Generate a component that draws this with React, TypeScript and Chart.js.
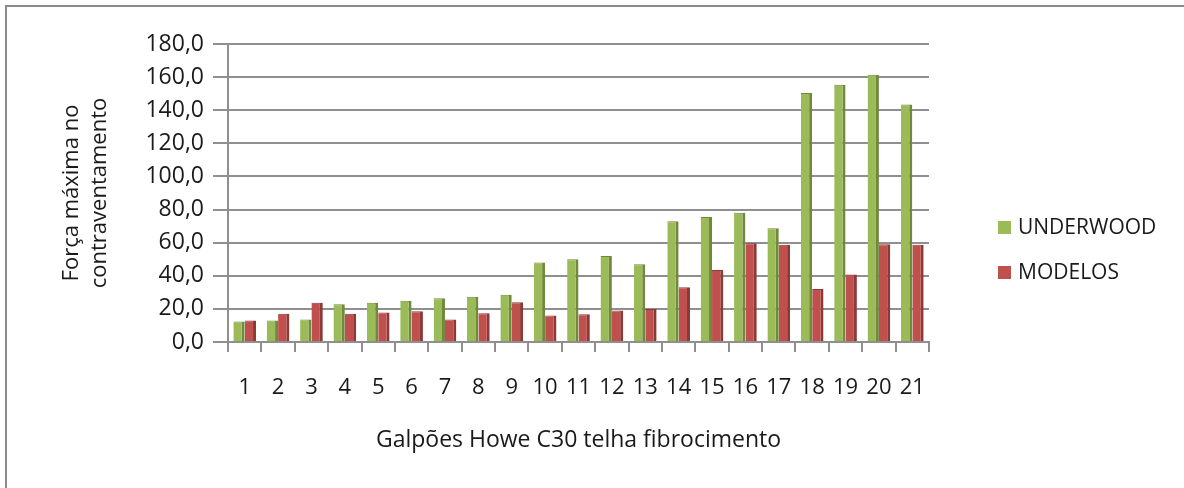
import React, { useEffect, useRef } from "react";
import { Chart, registerables } from "chart.js";

Chart.register(...registerables);

const categories = ["1","2","3","4","5","6","7","8","9","10","11","12","13","14","15","16","17","18","19","20","21"];
const underwood = [12.4, 13, 13.6, 22.8, 23.7, 24.9, 26.4, 27.4, 28.6, 48, 50, 52, 47, 73, 75.5, 78, 68.7, 150.4, 155.4, 161.4, 143.5];
const modelos = [13, 17, 23.7, 17, 17.8, 18.6, 13.6, 17.4, 24, 16, 16.8, 19, 20, 33, 43.5, 59.7, 58.7, 32, 40.7, 59, 58.7];
const seriesNames = ["UNDERWOOD", "MODELOS"];
const yTitle = ["Força máxima no", "contraventamento"];
const xTitle = "Galpões Howe C30 telha fibrocimento";

const FONT = '"Open Sans", "DejaVu Sans", sans-serif';
const TEXT = "#1a1a1a";
const GRID = "#8f8f8f";

const framePlugin = {
  id: "frame",
  beforeDraw(chart: any) {
    const ctx = chart.ctx;
    ctx.save();
    ctx.fillStyle = "#ffffff";
    ctx.fillRect(0, 0, chart.width, chart.height);
    ctx.strokeStyle = "#8a8a8a";
    ctx.lineWidth = 2;
    ctx.strokeRect(6, 6, 1200, 520);
    ctx.restore();
  },
};

const legendPlugin = {
  id: "sideLegend",
  afterDraw(chart: any) {
    const ctx = chart.ctx;
    ctx.save();
    chart.data.datasets.forEach((ds: any, i: number) => {
      const y = 227 + i * 45;
      ctx.fillStyle = ds.backgroundColor;
      ctx.fillRect(998, y - 6, 13, 13);
      ctx.fillStyle = TEXT;
      ctx.font = `21px ${FONT}`;
      ctx.textBaseline = "middle";
      ctx.textAlign = "left";
      ctx.fillText(ds.label, 1018, y + 1);
    });
    ctx.restore();
  },
};

export default function App() {
  const ref = useRef<HTMLCanvasElement>(null);
  useEffect(() => {
    const chart = new Chart(ref.current!, {
      type: "bar",
      data: {
        labels: categories,
        datasets: [
          {
            label: seriesNames[0],
            data: underwood,
            backgroundColor: "#9BBB59",
            borderColor: "#71893F",
            borderWidth: { top: 1, right: 3, left: 0, bottom: 0 },
            borderSkipped: "bottom",
          },
          {
            label: seriesNames[1],
            data: modelos,
            backgroundColor: "#C0504D",
            borderColor: "#8C3A38",
            borderWidth: { top: 1, right: 3, left: 0, bottom: 0 },
            borderSkipped: "bottom",
          },
        ],
      },
      options: {
        responsive: false,
        animation: false,
        layout: { padding: { top: 44, left: 0, right: 255, bottom: 0 } },
        plugins: { legend: { display: false }, tooltip: { enabled: false } },
        datasets: { bar: { categoryPercentage: 0.68, barPercentage: 1 } },
        scales: {
          x: {
            offset: true,
            grid: { display: true, drawOnChartArea: false, drawTicks: true, tickLength: 10, color: GRID, lineWidth: 2, offset: true },
            border: { display: true, color: GRID, width: 2 },
            ticks: { color: TEXT, font: { family: FONT, size: 22 }, padding: 23, maxRotation: 0, autoSkip: false },
            title: { display: true, text: xTitle, color: TEXT, font: { family: FONT, size: 23, lineHeight: 1.25 }, padding: { top: 0, bottom: 33 } },
            afterFit: (s: any) => { s.height = 146; },
          },
          y: {
            min: 0,
            max: 180,
            ticks: {
              stepSize: 20,
              color: TEXT,
              font: { family: FONT, size: 23 },
              padding: 9,
              callback: (v: any) => Number(v).toFixed(1).replace(".", ","),
            },
            grid: { color: GRID, lineWidth: 2, tickLength: 15, drawTicks: true },
            border: { display: true, color: GRID, width: 2 },
            title: { display: true, text: yTitle, color: TEXT, font: { family: FONT, size: 22, lineHeight: 1.25 }, padding: { top: 58, bottom: 0 } },
            afterFit: (s: any) => { s.width = 228; },
          },
        },
      },
      plugins: [framePlugin, legendPlugin],
    });
    return () => chart.destroy();
  }, []);
  return (
    <div style={{ position: "absolute", left: 0, top: 0, width: 1184, height: 488 }}>
      <canvas ref={ref} width={1184} height={488} />
    </div>
  );
}
